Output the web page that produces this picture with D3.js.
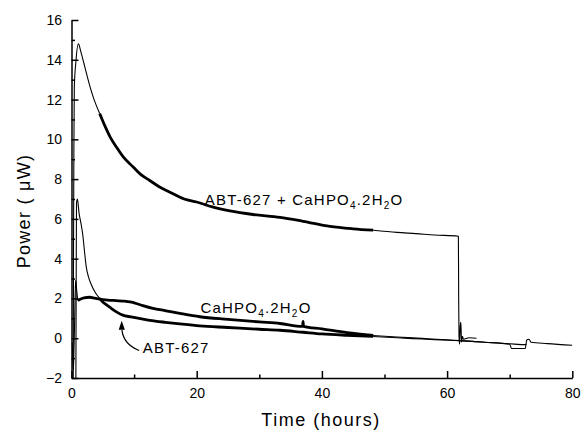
<!DOCTYPE html>
<html>
<head>
<meta charset="utf-8">
<script src="https://cdn.jsdelivr.net/npm/d3@7"></script>
<style>
  body { margin: 0; background: #fff; }
  svg { display: block; font-family: "Liberation Sans", Arial, sans-serif; }
  .axis path, .axis line { stroke: #000; stroke-width: 1.5; }
  .axis text { font-size: 14px; fill: #000; }
  .note { font-size: 15px; letter-spacing: 1.2px; fill: #000; }
</style>
</head>
<body>
<div id="chart"></div>
<script>
// readings: [time (h), power (uW)]
const abtCa = [
  [0.28, -2.0], [0.32, 4.0], [0.38, 9.5], [0.45, 12.6], [0.7, 13.9], [1.1, 14.8],
  [1.5, 14.4], [2.0, 13.8], [2.4, 13.3], [3.0, 12.6], [3.5, 12.1], [4.5, 11.3],
  [5.3, 10.7], [6.2, 10.1], [7.2, 9.6], [8.3, 9.1], [9.9, 8.6], [11, 8.25],
  [12.5, 7.93], [14, 7.62], [15.5, 7.38], [18, 7.0], [20, 6.85], [22.5, 6.6],
  [25.3, 6.4], [29, 6.22], [33.3, 6.08], [37, 5.88], [41.3, 5.62], [45, 5.5],
  [48.2, 5.43], [52, 5.32], [55, 5.26], [58, 5.19], [61.8, 5.13], [61.85, 2.0],
  [61.9, 0.1], [62.0, -0.3], [62.1, 0.6], [62.2, 0.8], [62.3, -0.2], [62.45, 0.1],
  [62.6, -0.05], [63.5, 0.02], [64.7, 0.0]
]
const caHpo = [
  [0.1, -0.2], [0.2, -0.9], [0.3, -1.6], [0.4, -0.5], [0.5, 0.8], [0.65, 2.9],
  [0.8, 2.5], [1.0, 1.9], [1.3, 1.95], [2.0, 2.03], [2.9, 2.06], [3.7, 2.02],
  [4.5, 1.97], [5.8, 1.92], [7.1, 1.89], [8.5, 1.86], [9.8, 1.8], [10.6, 1.72],
  [11.4, 1.64], [13, 1.5], [15.1, 1.38], [17.3, 1.25], [20.5, 1.08], [25, 0.95],
  [30, 0.82], [33.3, 0.74], [36.9, 0.6], [37, 0.85], [37.05, 0.6], [40, 0.47],
  [44, 0.28], [48.2, 0.14], [52, 0.06], [56, -0.01], [60, -0.08], [62, -0.12],
  [66, -0.2], [70, -0.28], [72.6, -0.32], [72.7, -0.1], [73.1, -0.05], [73.4, -0.2],
  [76, -0.27], [80, -0.35]
]
const abt = [
  [0.7, -2.0], [0.75, 3.0], [0.8, 6.8], [0.95, 7.0], [1.2, 6.3], [1.5, 5.8],
  [1.8, 5.2], [2.1, 4.3], [2.35, 3.6], [2.7, 3.1], [3.15, 2.7], [3.8, 2.3],
  [4.5, 2.0], [4.9, 1.85], [5.5, 1.7], [6.1, 1.56], [7.1, 1.34], [8.2, 1.16],
  [9.5, 1.07], [11, 0.98], [12.5, 0.9], [15, 0.8], [17.3, 0.72], [20.5, 0.62],
  [25, 0.54], [30, 0.45], [33.3, 0.4], [37, 0.3], [40, 0.22], [44, 0.15],
  [48.2, 0.09], [52, 0.02], [56, -0.04], [60, -0.1], [62, -0.13], [66, -0.2],
  [70, -0.3], [70.3, -0.52], [72.5, -0.52], [72.6, -0.28]
]

const xMajor = [0, 20, 40, 60, 80]
const xMinor = [10, 30, 50, 70]
const yMajor = [-2, 0, 2, 4, 6, 8, 10, 12, 14, 16]
const yMinor = [-1, 1, 3, 5, 7, 9, 11, 13, 15]

const W = 583, H = 434
const m = { left: 71.5, right: 10.7, top: 20, bottom: 56 }

const svg = d3.select('#chart').append('svg').attr('width', W).attr('height', H)

const x = d3.scaleLinear().domain([0, 80]).range([m.left, W - m.right])
const y = d3.scaleLinear().domain([-2, 16]).range([H - m.bottom, m.top])

svg.append('defs').append('clipPath').attr('id', 'plot')
  .append('rect')
  .attr('x', m.left).attr('y', m.top)
  .attr('width', W - m.left - m.right).attr('height', H - m.top - m.bottom)

// series, drawn in pieces so the dense middle stretch reads heavier
const runs = [
  { data: abtCa, cuts: [4.5, 48.2] },
  { data: caHpo, cuts: [1.0, 48.2] },
  { data: abt, cuts: [4.5, 48.2] }
]
const widths = [1.1, 2.8, 1.1]
const line = d3.line().x(d => x(d[0])).y(d => y(d[1])).curve(d3.curveMonotoneX)

const lines = svg.append('g').attr('clip-path', 'url(#plot)')
runs.forEach(r => {
  const edges = [-Infinity, ...r.cuts, Infinity]
  for (let i = 0; i < 3; i++) {
    const part = r.data.filter(d => d[0] >= edges[i] && d[0] <= edges[i + 1])
    if (part.length < 2) continue
    lines.append('path')
      .datum(part)
      .attr('d', line)
      .attr('fill', 'none')
      .attr('stroke', '#000')
      .attr('stroke-width', widths[i])
      .attr('stroke-linejoin', 'round')
  }
})

// axes, ticks pointing inward
const gx = svg.append('g').attr('class', 'axis')
  .attr('transform', `translate(0,${y(-2)})`)
gx.call(d3.axisBottom(x).tickValues(xMajor).tickSize(-7).tickSizeOuter(0).tickPadding(10))
gx.append('g')
  .call(d3.axisBottom(x).tickValues(xMinor).tickSize(-3.5).tickFormat(''))
  .call(g => g.select('.domain').remove())
  .call(g => g.selectAll('text').remove())

const gy = svg.append('g').attr('class', 'axis')
  .attr('transform', `translate(${x(0)},0)`)
gy.call(d3.axisLeft(y).tickValues(yMajor).tickSize(-7).tickSizeOuter(0).tickPadding(9.5)
  .tickFormat(d3.format('d')))
gy.append('g')
  .call(d3.axisLeft(y).tickValues(yMinor).tickSize(-3.5).tickFormat(''))
  .call(g => g.select('.domain').remove())
  .call(g => g.selectAll('text').remove())
svg.selectAll('.axis text').attr('font-family', '"Liberation Sans", Arial, sans-serif')

// axis titles
svg.append('text')
  .attr('x', 321).attr('y', 426)
  .attr('text-anchor', 'middle')
  .style('font-size', '18px').style('letter-spacing', '1.5px')
  .text('Time (hours)')

svg.append('text')
  .attr('transform', 'translate(30,211) rotate(-90)')
  .attr('text-anchor', 'middle')
  .style('font-size', '18px').style('letter-spacing', '1.3px')
  .text('Power ( μW)')

// labels on the curves; numbers in the list are subscripts
function note(t, p, parts) {
  const txt = svg.append('text').attr('class', 'note').attr('x', x(t)).attr('y', y(p))
  let shift = 0
  parts.forEach(s => {
    const span = txt.append('tspan').text(s)
    if (typeof s === 'number') {
      span.attr('dy', 4 - shift).style('font-size', '10px')
      shift = 4
    } else if (shift) {
      span.attr('dy', -shift)
      shift = 0
    }
  })
}
note(21.3, 6.7, ['ABT-627 + CaHPO', 4, '.2H', 2, 'O'])
note(20.6, 1.28, ['CaHPO', 4, '.2H', 2, 'O'])
note(11.4, -0.76, ['ABT-627'])

// arrow from the ABT-627 label up to its curve
const tail = [10.8, -0.62], bend = [8.3, -0.3], tip = [8.05, 0.42]
svg.append('path')
  .attr('d', `M${x(tail[0])},${y(tail[1])} Q${x(bend[0])},${y(bend[1])} ${x(tip[0])},${y(tip[1])}`)
  .attr('fill', 'none').attr('stroke', '#000').attr('stroke-width', 1.2)
const hx = x(tip[0]), hy = y(tip[1])
svg.append('path')
  .attr('d', `M${hx - 3.2},${hy} L${hx + 3},${hy} L${hx - 0.2},${hy - 9} Z`)
  .attr('fill', '#000')
</script>
</body>
</html>
